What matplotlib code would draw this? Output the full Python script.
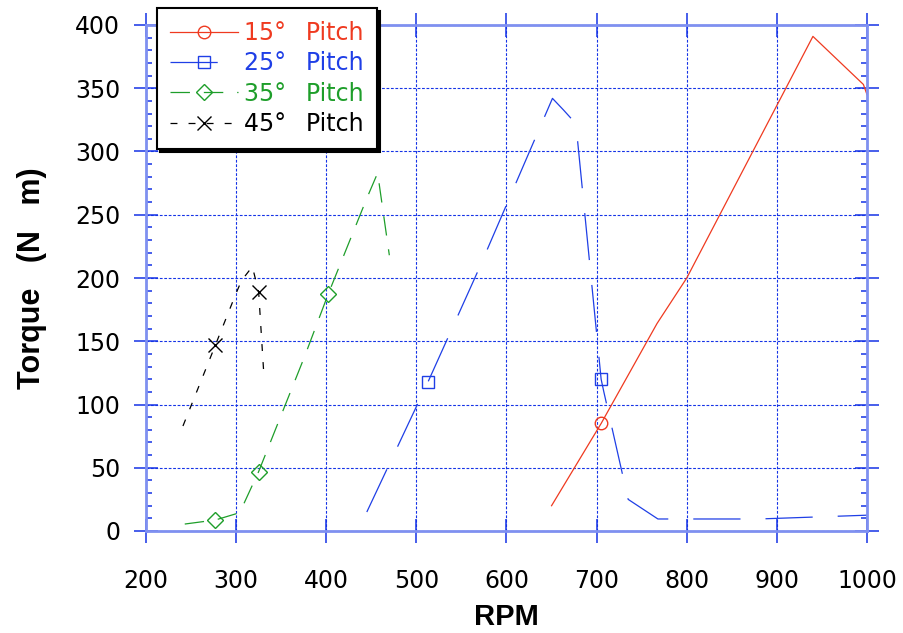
import numpy as np
import matplotlib
matplotlib.use('Agg')
import matplotlib.pyplot as plt
from matplotlib.ticker import MultipleLocator

plt.rcParams['font.family'] = ['DejaVu Sans']
plt.rcParams['lines.scale_dashes'] = False

# data
rpm_15 = [650, 705, 767, 800, 940, 996, 1000]
tq_15 = [20, 85, 164, 200, 391, 353, 345]

rpm_25 = [445, 513, 568, 651, 663, 677, 705, 708, 735, 768, 800, 880, 1000]
tq_25 = [15, 118, 205, 342, 333, 322, 120, 110, 25, 9.5, 9.5, 9.5, 12.5]

rpm_35 = [243, 277, 304, 325, 376, 402, 445, 457, 470]
tq_35 = [5.5, 8.7, 14.5, 47, 138, 187, 263, 283, 218]

rpm_45 = [241, 277, 300, 306, 318, 325, 331]
tq_45 = [83, 147, 188, 198, 209, 189, 121]

labels = ['15°  \u2009Pitch', '25°  \u2009Pitch', '35°  \u2009Pitch', '45°  \u2009Pitch']

red = '#ef3a20'
blue = '#1f3fe6'
green = '#1e9e2a'
tick_blue = '#1533e6'
spine_blue = '#7f90f0'

fig = plt.figure(figsize=(9.04, 6.33), dpi=100)
ax = fig.add_axes([146/904, 1-531/633, 721/904, 506/633])

ax.plot(rpm_15, tq_15, color=red, lw=0.9, marker='o', ms=9, mfc='none',
        mec=red, mew=1.0, markevery=[1], label=labels[0])
ax.plot(rpm_25, tq_25, color=blue, lw=0.9, dashes=(34, 18), marker='s', ms=9,
        mfc='none', mec=blue, mew=1.0, markevery=[1, 6], label=labels[1])
ax.plot(rpm_35, tq_35, color=green, lw=0.9, dashes=(14, 10), marker='D', ms=8,
        mfc='none', mec=green, mew=1.0, markevery=[1, 3, 5], label=labels[2])
ax.plot(rpm_45, tq_45, color='black', lw=0.9, dashes=(5, 8), marker='x', ms=10,
        mec='black', mew=1.0, markevery=[1, 5], label=labels[3])

ax.set_xlim(200, 1000)
ax.set_ylim(0, 400)
ax.xaxis.set_major_locator(MultipleLocator(100))
ax.yaxis.set_major_locator(MultipleLocator(50))
ax.yaxis.set_minor_locator(MultipleLocator(10))

ax.grid(True, which='major', color=tick_blue, lw=0.8, ls=(0, (2, 1.2)))
ax.set_axisbelow(True)

for s in ax.spines.values():
    s.set_color(spine_blue)
    s.set_linewidth(2.0)

ax.tick_params(axis='both', which='major', direction='inout', length=17, width=1.1,
               color=tick_blue, top=True, right=True, labelsize=17)
ax.tick_params(axis='y', which='minor', direction='in', length=4.5, width=1.1,
               color=tick_blue, left=True, right=True)
ax.tick_params(axis='y', which='major', pad=10)
ax.tick_params(axis='x', which='major', pad=19)

ax.set_xlabel('RPM', fontsize=21, fontweight='bold', family='Liberation Sans', labelpad=7)
ax.set_ylabel('Torque   (N   m)', fontsize=22, fontweight='bold', family='Liberation Sans',
              labelpad=20)

leg = ax.legend(loc='upper left', bbox_to_anchor=(157/904, 1-8/633),
                bbox_transform=fig.transFigure, borderaxespad=0, fontsize=17,
                labelcolor='linecolor', handlelength=2.9, handletextpad=0.25,
                labelspacing=0.27, borderpad=0.55, numpoints=1, fancybox=False,
                framealpha=1, edgecolor='black', shadow={'color': 'black', 'alpha': 1})
leg.get_frame().set_linewidth(1.5)
leg.set_zorder(10)

fig.savefig('out.png', dpi=100)
